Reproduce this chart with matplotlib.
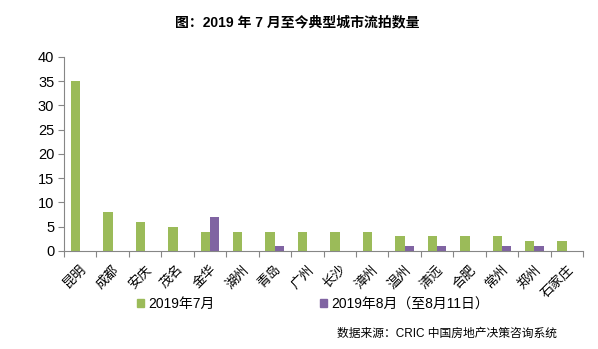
import matplotlib
matplotlib.use("Agg")
from matplotlib import pyplot as plt
from matplotlib.patches import Patch
import numpy as np

plt.rcParams['font.family'] = ['Liberation Sans', 'Noto Sans CJK SC']

cities = ["昆明", "成都", "安庆", "茂名", "金华", "湖州", "青岛", "广州",
          "长沙", "漳州", "温州", "清远", "合肥", "常州", "郑州", "石家庄"]
jul = [35, 8, 6, 5, 4, 4, 4, 4, 4, 4, 3, 3, 3, 3, 2, 2]
aug = [0, 0, 0, 0, 7, 0, 1, 0, 0, 0, 1, 1, 0, 1, 1, 0]
series_names = ["2019年7月", "2019年8月（至8月11日）"]

green = "#9bbb59"
purple = "#8064a2"
axis_gray = "#868686"

x = np.arange(len(cities))
width = 0.29

fig = plt.figure(figsize=(5.98, 3.49), dpi=100)
ax = fig.add_axes([0.107, 0.281, 0.868, 0.556])

ax.bar(x - width / 2, jul, width=width, color=green)
ax.bar(x + width / 2, aug, width=width, color=purple)

ax.set_xlim(-0.5, len(cities) - 0.5)
ax.set_ylim(0, 40)
ax.set_yticks(range(0, 41, 5))
ax.tick_params(axis='y', labelsize=10.5, length=4, color=axis_gray, pad=3)

# category ticks sit on the boundaries, labels at the centers
ax.set_xticks(np.arange(-0.5, len(cities)), minor=False)
ax.set_xticklabels([])
ax.set_xticks(x, minor=True)
ax.set_xticklabels(cities, minor=True, rotation=45, ha='right', va='top',
                   rotation_mode='anchor', fontsize=9.5)
ax.tick_params(axis='x', which='major', length=4, color=axis_gray)
ax.tick_params(axis='x', which='minor', length=0, pad=9)

for side in ['top', 'right']:
    ax.spines[side].set_visible(False)
for side in ['left', 'bottom']:
    ax.spines[side].set_color(axis_gray)

fig.text(0.497, 0.937, "图：2019 年 7 月至今典型城市流拍数量", ha='center', va='center',
         fontsize=10, fontweight='bold')

handles = [Patch(color=green), Patch(color=purple)]
fig.legend(handles, series_names, loc='center', bbox_to_anchor=(0.523, 0.128),
           ncol=2, frameon=False, fontsize=10, handlelength=0.5, handleheight=0.5,
           handletextpad=0.3, columnspacing=7.6)

fig.text(0.932, 0.043, "数据来源：CRIC 中国房地产决策咨询系统", ha='right', va='center',
         fontsize=8.5)

plt.savefig("out.png", dpi=100)
